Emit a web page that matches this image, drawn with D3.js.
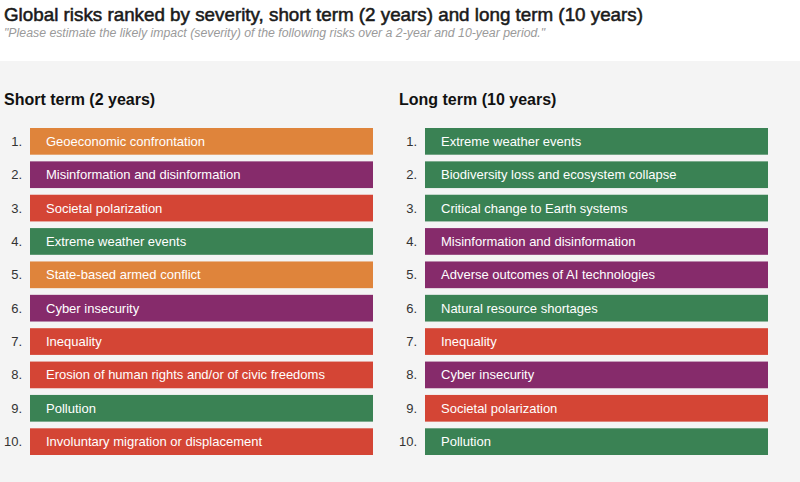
<!DOCTYPE html>
<html>
<head>
<meta charset="utf-8">
<script src="https://cdn.jsdelivr.net/npm/d3@7"></script>
<style>
  body { margin: 0; background: #fff; font-family: "Liberation Sans", Arial, sans-serif; }
  svg { display: block; }
</style>
</head>
<body>
<div id="chart"></div>
<script>
// risk categories -> colour
const categoryColors = {
    economic: "#df843b",
    technological: "#862b6b",
    societal: "#d44535",
    environmental: "#3a8254"
};

const ranks = [1, 2, 3, 4, 5, 6, 7, 8, 9, 10];

const shortTermRisks = [
    "Geoeconomic confrontation",
    "Misinformation and disinformation",
    "Societal polarization",
    "Extreme weather events",
    "State-based armed conflict",
    "Cyber insecurity",
    "Inequality",
    "Erosion of human rights and/or of civic freedoms",
    "Pollution",
    "Involuntary migration or displacement"
];
const shortTermCategories = ["economic", "technological", "societal", "environmental", "economic",
    "technological", "societal", "societal", "environmental", "societal"];

const longTermRisks = [
    "Extreme weather events",
    "Biodiversity loss and ecosystem collapse",
    "Critical change to Earth systems",
    "Misinformation and disinformation",
    "Adverse outcomes of AI technologies",
    "Natural resource shortages",
    "Inequality",
    "Cyber insecurity",
    "Societal polarization",
    "Pollution"
];
const longTermCategories = ["environmental", "environmental", "environmental", "technological", "technological",
    "environmental", "societal", "technological", "societal", "environmental"];

const width = 800, height = 482;

const svg = d3.select("#chart").append("svg")
    .attr("width", width)
    .attr("height", height);

// grey panel behind both lists
svg.append("rect")
    .attr("x", 0).attr("y", 61)
    .attr("width", width).attr("height", height - 61)
    .attr("fill", "#f4f4f4");

// title: medium-ish weight, fake it with a thin stroke on the regular face
svg.append("text")
    .attr("x", 4).attr("y", 21)
    .attr("font-size", 19)
    .attr("fill", "#1a1a1a")
    .attr("stroke", "#1a1a1a")
    .attr("stroke-width", 0.55)
    .attr("textLength", 639)
    .attr("lengthAdjust", "spacingAndGlyphs")
    .text("Global risks ranked by severity, short term (2 years) and long term (10 years)");

svg.append("text")
    .attr("x", 4).attr("y", 37)
    .attr("font-size", 12.3)
    .attr("font-style", "italic")
    .attr("fill", "#9a9a9a")
    .text("\"Please estimate the likely impact (severity) of the following risks over a 2-year and 10-year period.\"");

const y = d3.scaleBand()
    .domain(ranks)
    .range([128, 455])
    .paddingInner(0.2)
    .paddingOuter(0);

function drawList(title, risks, cats, x0, x1) {
    let g = svg.append("g");

    g.append("text")
        .attr("x", x0 - 26).attr("y", 105)
        .attr("font-size", 16)
        .attr("font-weight", "bold")
        .attr("fill", "#111")
        .text(title);

    let x = d3.scaleLinear().domain([0, 1]).range([x0, x1]);

    let rows = g.selectAll(".row")
        .data(ranks)
        .enter().append("g")
        .attr("class", "row")
        .attr("transform", d => `translate(0, ${y(d)})`);

    rows.append("rect")
        .attr("x", x(0))
        .attr("width", x(1) - x(0))
        .attr("height", y.bandwidth())
        .attr("fill", (d, i) => categoryColors[cats[i]]);

    rows.append("text")
        .attr("x", x(0) - 8)
        .attr("y", y.bandwidth() / 2)
        .attr("dy", "0.35em")
        .attr("text-anchor", "end")
        .attr("font-size", 13)
        .attr("fill", "#333")
        .text(d => d + ".");

    rows.append("text")
        .attr("x", x(0) + 16)
        .attr("y", y.bandwidth() / 2)
        .attr("dy", "0.35em")
        .attr("font-size", 13)
        .attr("fill", "#fff")
        .text((d, i) => risks[i]);
}

drawList("Short term (2 years)", shortTermRisks, shortTermCategories, 30, 373);
drawList("Long term (10 years)", longTermRisks, longTermCategories, 425, 768);
</script>
</body>
</html>
